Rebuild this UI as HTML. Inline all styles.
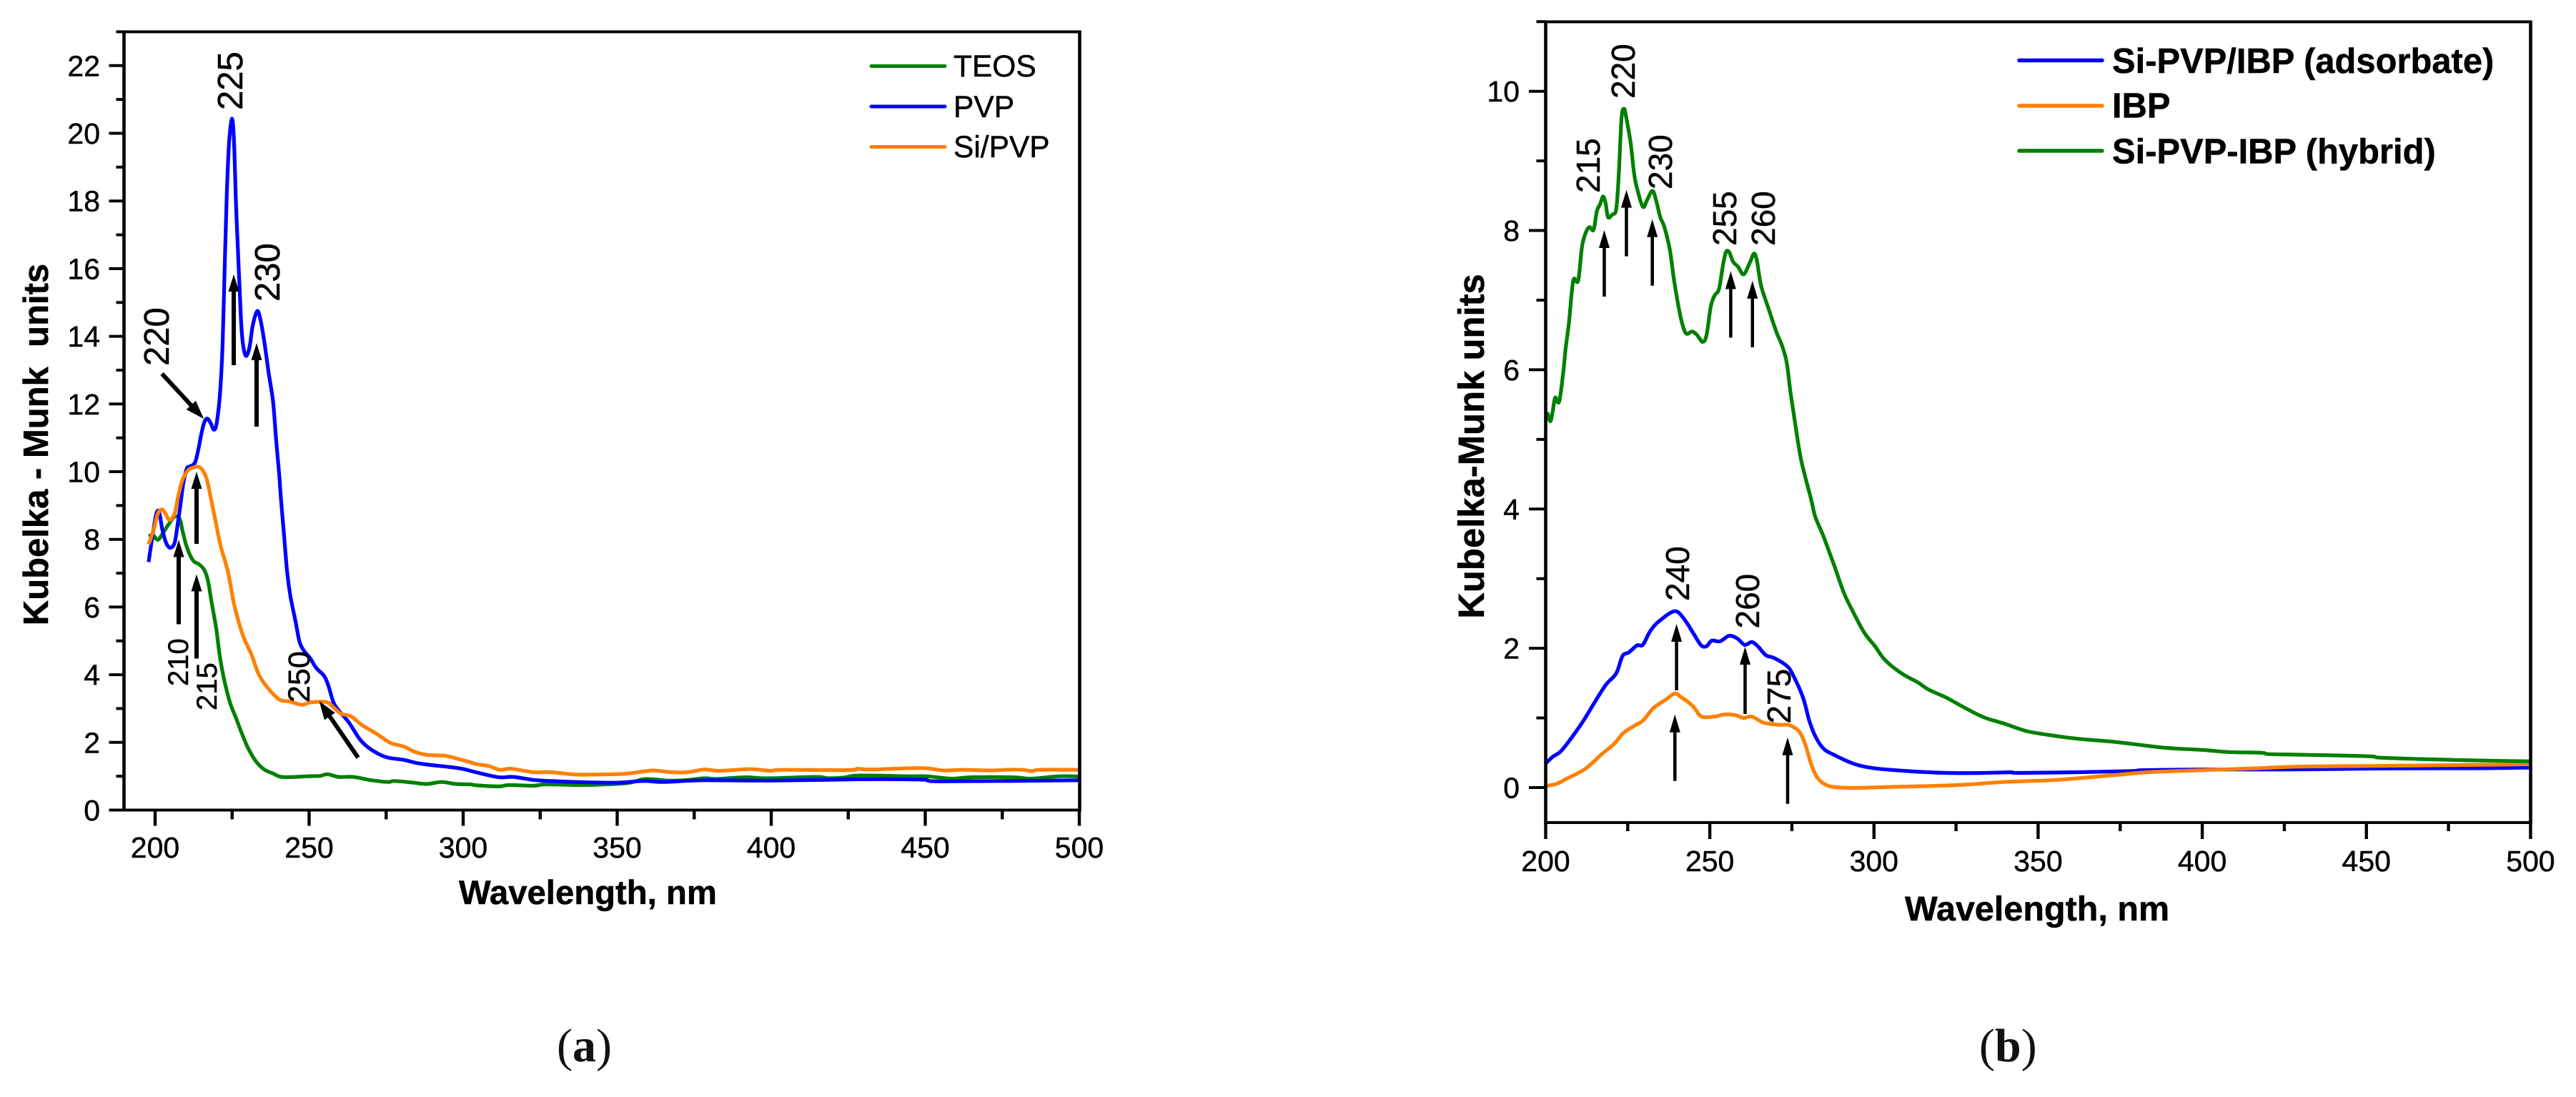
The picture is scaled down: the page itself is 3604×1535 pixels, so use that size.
<!DOCTYPE html>
<html lang="en">
<head>
<meta charset="utf-8">
<title>Kubelka-Munk spectra</title>
<style>
html,body{margin:0;padding:0;background:#fff;}
svg{display:block;}
text{font-family:"Liberation Sans",Arial,sans-serif;fill:#000;stroke:#000;stroke-width:.5px;}
.peak{font-size:49px;}
.peak-small{font-size:40px;}
.peak-b{font-size:46px;}
.legend-a{font-size:42.5px;}
.legend-b{font-size:48.9px;font-weight:bold;}
.axis-title{font-weight:bold;}
.caption{font-family:"Liberation Serif",serif;font-size:66px;fill:#111;stroke:none;}
.arrow-a line{stroke:#000;stroke-width:6;}
.arrow-b line{stroke:#000;stroke-width:4.5;}
</style>
</head>
<body>
<svg id="figure" xmlns="http://www.w3.org/2000/svg" width="3604" height="1535" viewBox="0 0 3604 1535">
  <rect x="0" y="0" width="3604" height="1535" fill="#fff"/>

  <g id="panel-a"></g>
  <g id="panel-b"></g>

  <!-- Panel (a) annotations -->
  <g>
    <text class="peak" transform="translate(339,154) rotate(-90)">225</text>
    <text class="peak" transform="translate(391,422) rotate(-90)">230</text>
    <text class="peak" transform="translate(236,512) rotate(-90)">220</text>
    <text class="peak-small" transform="translate(263,960) rotate(-90)">210</text>
    <text class="peak-small" transform="translate(303,994) rotate(-90)">215</text>
    <text class="peak-small" style="font-size:43px" transform="translate(433,983) rotate(-90)">250</text>

    <g class="arrow-a" transform="translate(327,384)"><line x1="0" y1="15" x2="0" y2="127"/><path d="M0 0L-7.5 24L7.5 24Z"/></g>
    <g class="arrow-a" transform="translate(359,480)"><line x1="0" y1="15" x2="0" y2="117"/><path d="M0 0L-7.5 24L7.5 24Z"/></g>
    <g class="arrow-a" transform="translate(285,586) rotate(137.2)"><line x1="0" y1="15" x2="0" y2="86"/><path d="M0 0L-9 26L9 26Z"/></g>
    <g class="arrow-a" transform="translate(250,755.5)"><line x1="0" y1="15" x2="0" y2="118"/><path d="M0 0L-7.5 24L7.5 24Z"/></g>
    <g class="arrow-a" transform="translate(275,660)"><line x1="0" y1="15" x2="0" y2="101"/><path d="M0 0L-7.5 24L7.5 24Z"/></g>
    <g class="arrow-a" transform="translate(275,803.5)"><line x1="0" y1="15" x2="0" y2="118"/><path d="M0 0L-7.5 24L7.5 24Z"/></g>
    <g class="arrow-a" transform="translate(446.6,981) rotate(-34.5)"><line x1="0" y1="15" x2="0" y2="96"/><path d="M0 0L-9 26L9 26Z"/></g>
  </g>

  <!-- Panel (a) legend -->
  <g>
    <line x1="1219" y1="92.5" x2="1322" y2="92.5" stroke="#008000" stroke-width="5" stroke-linecap="round"/>
    <text class="legend-a" x="1334" y="107">TEOS</text>
    <line x1="1219" y1="149" x2="1322" y2="149" stroke="#0000ff" stroke-width="5" stroke-linecap="round"/>
    <text class="legend-a" x="1334" y="164">PVP</text>
    <line x1="1219" y1="205.5" x2="1322" y2="205.5" stroke="#ff8000" stroke-width="5" stroke-linecap="round"/>
    <text class="legend-a" x="1334" y="220">Si/PVP</text>
  </g>

  <!-- Panel (b) annotations -->
  <g>
    <text class="peak-b" transform="translate(2287,138) rotate(-90)">220</text>
    <text class="peak-b" transform="translate(2238,270) rotate(-90)">215</text>
    <text class="peak-b" transform="translate(2339,265) rotate(-90)">230</text>
    <text class="peak-b" transform="translate(2429,344) rotate(-90)">255</text>
    <text class="peak-b" transform="translate(2483,344) rotate(-90)">260</text>
    <text class="peak-b" transform="translate(2363,841) rotate(-90)">240</text>
    <text class="peak-b" transform="translate(2461,879.5) rotate(-90)">260</text>
    <text class="peak-b" transform="translate(2505,1012.6) rotate(-90)">275</text>

    <g class="arrow-b" transform="translate(2244.5,322)"><line x1="0" y1="15" x2="0" y2="93"/><path d="M0 0L-7.5 25L7.5 25Z"/></g>
    <g class="arrow-b" transform="translate(2275.5,265.6)"><line x1="0" y1="15" x2="0" y2="93"/><path d="M0 0L-7.5 25L7.5 25Z"/></g>
    <g class="arrow-b" transform="translate(2311.7,306.7)"><line x1="0" y1="15" x2="0" y2="93"/><path d="M0 0L-7.5 25L7.5 25Z"/></g>
    <g class="arrow-b" transform="translate(2421.4,379.5)"><line x1="0" y1="15" x2="0" y2="93"/><path d="M0 0L-7.5 25L7.5 25Z"/></g>
    <g class="arrow-b" transform="translate(2451.8,392.9)"><line x1="0" y1="15" x2="0" y2="93"/><path d="M0 0L-7.5 25L7.5 25Z"/></g>
    <g class="arrow-b" transform="translate(2345.6,873)"><line x1="0" y1="15" x2="0" y2="93"/><path d="M0 0L-7.5 25L7.5 25Z"/></g>
    <g class="arrow-b" transform="translate(2441.5,905)"><line x1="0" y1="15" x2="0" y2="94"/><path d="M0 0L-7.5 25L7.5 25Z"/></g>
    <g class="arrow-b" transform="translate(2343.3,999.8)"><line x1="0" y1="15" x2="0" y2="93"/><path d="M0 0L-7.5 25L7.5 25Z"/></g>
    <g class="arrow-b" transform="translate(2501,1031.7)"><line x1="0" y1="15" x2="0" y2="93"/><path d="M0 0L-7.5 25L7.5 25Z"/></g>
  </g>

  <!-- Panel (b) legend -->
  <g>
    <line x1="2825" y1="84.5" x2="2941" y2="84.5" stroke="#0000ff" stroke-width="5.5" stroke-linecap="round"/>
    <text class="legend-b" x="2955" y="102">Si-PVP/IBP (adsorbate)</text>
    <line x1="2825" y1="148" x2="2941" y2="148" stroke="#ff8000" stroke-width="5.5" stroke-linecap="round"/>
    <text class="legend-b" x="2955" y="164.5">IBP</text>
    <line x1="2825" y1="211" x2="2941" y2="211" stroke="#008000" stroke-width="5.5" stroke-linecap="round"/>
    <text class="legend-b" x="2955" y="228.5">Si-PVP-IBP (hybrid)</text>
  </g>

  <!-- Axis titles -->
  <text class="axis-title" x="642" y="1265" font-size="47.3">Wavelength, nm</text>
  <text class="axis-title" transform="translate(67,622) rotate(-90)" text-anchor="middle" font-size="49" xml:space="preserve">Kubelka - Munk&#160;&#160;units</text>
  <text class="axis-title" x="2665" y="1288" font-size="48.5">Wavelength, nm</text>
  <text class="axis-title" transform="translate(2076,624.5) rotate(-90)" text-anchor="middle" font-size="50.8">Kubelka-Munk units</text>

  <!-- Panel captions -->
  <text class="caption" x="779" y="1485">(<tspan font-weight="bold">a</tspan>)</text>
  <text class="caption" x="2769" y="1485">(<tspan font-weight="bold">b</tspan>)</text>
</svg>

<script>
// ---------- Panel (a) data ----------
const xMajorA = [200, 250, 300, 350, 400, 450, 500];
const xMinorA = [225, 275, 325, 375, 425, 475];
const yMajorA = [0, 2, 4, 6, 8, 10, 12, 14, 16, 18, 20, 22];
const yMinorA = [1, 3, 5, 7, 9, 11, 13, 15, 17, 19, 21, 23];

const waveTeos = [197.9,199.2,200.9,202.7,204.3,206.3,208,208.9,210.3,212.3,214.3,216,217.2,218.3,219.9,220.9,222.3,224.3,226.3,228.3,230.3,232.9,235.6,238.3,240.9,245.6,249.6,253.6,255.9,259.6,264.3,270.3,275.6,277.6,282.9,288.2,292.9,297.6,302.3,304.3,311.6,314.9,322.9,326.9,338.9,346.9,353.6,358.4,361.7,366.5,371.7,378.4,382.4,391.7,398.4,414.4,418.4,423.7,428.4,445,450.4,458.4,465,478.4,484.4,493.7,500];
const valuesTeos = [8.09,8.13,7.99,8.21,8.43,8.67,8.6,8.25,7.77,7.38,7.26,7.09,6.76,6.16,5.33,4.61,3.9,3.18,2.71,2.23,1.81,1.42,1.19,1.08,.98,.98,1,1.01,1.06,.98,.98,.88,.83,.86,.82,.77,.83,.77,.76,.73,.7,.74,.72,.76,.74,.76,.8,.91,.91,.87,.88,.94,.92,.97,.94,.98,.94,.96,1.02,1,1,.93,.97,.97,.93,1,.99];

const wavePvp = [197.9,198.9,200.3,201.3,202.3,203.6,204.9,206.3,207.3,208.3,209.2,210.3,211.2,212.9,214,214.9,215.9,216.9,218,219.1,220,221.1,221.9,222.7,223.3,224,224.9,225.6,226.3,227.2,228,228.7,229.6,230.7,231.7,233.2,234.4,235.6,236.9,238.3,239.3,240.3,240.9,241.9,242.9,244,245.6,246.9,248.3,250.3,252.3,254.9,256.3,257.9,259.6,262.9,266.3,268.9,272.3,275.6,280.9,284.9,289.6,294.9,299.6,304.9,311.6,316.3,322.9,330.9,340.3,350.3,358.7,365,378.3,400,429,449,455.6,500];
const valuesPvp = [7.33,7.95,8.72,8.81,8.31,7.89,7.75,7.89,8.43,9.08,9.68,10.1,10.15,10.26,10.64,11.07,11.44,11.57,11.44,11.24,11.44,12.34,13.75,16.4,18.28,19.7,20.43,19.8,17.8,15.9,14.3,13.66,13.42,13.7,14.32,14.75,14.4,13.75,12.9,12.06,10.92,9.9,9.14,8.07,7,6.28,5.57,4.97,4.71,4.49,4.2,3.96,3.66,3.18,2.94,2.59,2.11,1.87,1.67,1.55,1.48,1.39,1.33,1.28,1.22,1.1,.97,.98,.89,.85,.82,.81,.86,.83,.88,.87,.91,.9,.85,.88];

const waveSiPvp = [197.9,199.6,200.9,202.3,203.6,204.7,206.3,207.6,208.9,210.7,212.3,213.9,215.2,216.7,218,219.6,221.2,223.6,225.6,228.3,231.2,233.6,236.3,240.3,243.6,247.6,250.3,255.6,257.6,260.3,263.6,266.9,272.3,276.3,280.9,284.3,288.3,294.3,300.9,304.3,308.3,311.9,315.6,322.9,328.3,336.3,343,352.3,358.4,362,367.7,373,378.4,383,393,399.7,403.7,425,428,432.4,449,456,462,471.7,475.7,481.5,484.6,487,500];
const valuesSiPvp = [7.85,8.31,8.76,8.88,8.72,8.57,8.76,9.32,9.76,10.04,10.12,10.15,10.07,9.8,9.26,8.55,7.83,7.06,6.1,5.21,4.61,4.02,3.64,3.27,3.21,3.11,3.18,3.19,3.06,2.85,2.77,2.53,2.23,1.99,1.87,1.72,1.63,1.6,1.45,1.36,1.3,1.19,1.22,1.12,1.12,1.05,1.05,1.07,1.14,1.17,1.12,1.12,1.2,1.16,1.21,1.16,1.19,1.18,1.22,1.2,1.24,1.17,1.19,1.17,1.19,1.19,1.15,1.19,1.19];

// ---------- Panel (b) data ----------
const xMajorB = [200, 250, 300, 350, 400, 450, 500];
const xMinorB = [225, 275, 325, 375, 425, 475];
const yMajorB = [0, 2, 4, 6, 8, 10];
const yMinorB = [1, 3, 5, 7, 9, 11];

const waveAdsorbate = [200,202.1,204.6,207.8,211.5,214.6,218.4,221.5,223.4,225.3,227.8,229.6,231.5,233.4,235.9,238.4,240.3,242.8,245.3,247.4,249,250.6,253.1,255.9,258.4,260.6,262.8,264.6,267.1,269.6,273.4,275.3,278.4,280.3,282.1,284.6,287.8,293.4,299.6,310.9,322.1,333.4,341.5,344,361,378,382.4,400.3,428.3,456,484,500];
const valuesAdsorbate = [.345,.44,.52,.71,.96,1.2,1.48,1.64,1.89,1.94,2.04,2.05,2.22,2.34,2.44,2.52,2.52,2.38,2.19,2.04,2.03,2.11,2.1,2.18,2.14,2.05,2.09,2.03,1.9,1.86,1.75,1.62,1.29,.96,.74,.56,.47,.35,.28,.235,.21,.21,.22,.21,.22,.236,.25,.26,.26,.274,.277,.287];

const waveIbp = [200,203.4,206.5,212.1,217.1,220.9,223.6,227.1,229.6,232.8,236.5,239.3,240.9,244.6,246.9,248.4,251.5,254.6,257.8,260.3,262.8,266.5,271.5,274,277.1,279,280.9,282.8,285.3,288.4,294.6,302.1,314.6,327.1,339.6,355.5,372.4,383.5,400.3,417,428.3,450.6,473,500];
const valuesIbp = [.02,.055,.13,.27,.48,.63,.78,.89,.96,1.14,1.26,1.35,1.31,1.18,1.04,1.01,1.02,1.05,1.04,1,1.02,.93,.9,.9,.81,.63,.33,.14,.04,.005,-.005,.005,.02,.04,.08,.11,.175,.22,.25,.277,.3,.31,.32,.335];

const waveHybrid = [200.5,201.4,202.1,202.9,204.1,205.3,206.1,207.1,208.4,209.9,211.1,212.4,213.4,214.6,215.6,216.6,217.5,218.3,219,220.3,221.5,222.3,223.1,223.9,224.6,225.9,226.9,227.8,229.6,230.9,232.5,233.6,234.9,236.1,237.8,239,240.3,241.5,242.8,244.6,246.1,247.8,249,250.3,251.5,252.8,254,254.9,255.9,257.1,258.6,260.3,262.1,263.5,264.4,265.6,267.8,270.3,271.9,273.4,274.6,275.9,277.8,280.9,282.1,284.6,287.8,290.9,294,297.1,300.3,303.4,308.4,313.4,316.5,322.1,327.1,333.4,339.6,346.6,355.5,362.3,372.4,378,389,400.3,408,418,420.4,431.6,450.6,454,466.3,483,500];
const valuesHybrid = [5.39,5.26,5.39,5.6,5.54,5.94,6.31,6.68,7.28,7.28,7.78,7.99,8.05,8.01,8.28,8.38,8.49,8.38,8.19,8.23,8.31,8.83,9.61,9.75,9.61,9.25,8.83,8.61,8.34,8.44,8.57,8.44,8.19,8.06,7.73,7.32,6.95,6.68,6.52,6.55,6.5,6.4,6.5,6.91,7.07,7.16,7.5,7.69,7.69,7.55,7.48,7.37,7.53,7.67,7.55,7.21,6.89,6.54,6.36,6.11,5.67,5.26,4.71,4.13,3.89,3.61,3.2,2.79,2.49,2.22,2.03,1.83,1.64,1.51,1.41,1.29,1.16,1.01,.92,.81,.74,.7,.66,.63,.57,.54,.51,.5,.48,.47,.45,.43,.41,.39,.376];

// ---------- Axis functions ----------
const xScaleA = w => 217 + 4.31 * (w - 200);
const yScaleA = v => 1133.5 - 47.35 * v;
const xScaleB = w => 2162.5 + 4.593 * (w - 200);
const yScaleB = v => 1102 - 97.43 * v;

const SVGNS = 'http://www.w3.org/2000/svg';

function addLine(parent, name, x1, y1, x2, y2, width) {
  const el = document.createElementNS(SVGNS, 'line');
  
  
  el.setAttribute('x1', x1);
  el.setAttribute('y1', y1);
  el.setAttribute('x2', x2);
  el.setAttribute('y2', y2);
  el.setAttribute('stroke', '#000');
  el.setAttribute('stroke-width', width);
  parent.appendChild(el);
}

function addLabel(parent, name, x, y, anchor, size, content) {
  const el = document.createElementNS(SVGNS, 'text');
  
  
  el.setAttribute('x', x);
  el.setAttribute('y', y);
  el.setAttribute('text-anchor', anchor);
  el.setAttribute('font-size', size);
  el.textContent = content;
  parent.appendChild(el);
}

// Smooth curve through the data points (Catmull-Rom to Bezier).
function curvePath(waves, values, sx, sy) {
  const px = waves.map(sx);
  const py = values.map(sy);
  const n = px.length;
  let d = 'M' + px[0].toFixed(1) + ' ' + py[0].toFixed(1);
  for (let i = 0; i < n - 1; i++) {
    const a = Math.max(i - 1, 0);
    const b = Math.min(i + 2, n - 1);
    const c1x = px[i] + (px[i + 1] - px[a]) / 6;
    const c1y = py[i] + (py[i + 1] - py[a]) / 6;
    const c2x = px[i + 1] - (px[b] - px[i]) / 6;
    const c2y = py[i + 1] - (py[b] - py[i]) / 6;
    d += 'C' + c1x.toFixed(1) + ' ' + c1y.toFixed(1) + ' ' + c2x.toFixed(1) + ' ' + c2y.toFixed(1) + ' ' + px[i + 1].toFixed(1) + ' ' + py[i + 1].toFixed(1);
  }
  return d;
}

function addSeries(parent, name, color, waves, values, sx, sy) {
  const el = document.createElementNS(SVGNS, 'path');
  
  
  el.setAttribute('d', curvePath(waves, values, sx, sy));
  el.setAttribute('fill', 'none');
  el.setAttribute('stroke', color);
  el.setAttribute('stroke-width', '5.2');
  el.setAttribute('stroke-linejoin', 'round');
  el.setAttribute('stroke-linecap', 'butt');
  parent.appendChild(el);
}

function drawAxes(parent, o) {
  const L = o.left, R = o.right, T = o.top, B = o.bottom;
  addLine(parent, 'plot-frame-left', L, T - 2, L, B + 2, 4.6);
  addLine(parent, 'plot-frame-right', R, T - 2, R, B + 2, 4.6);
  addLine(parent, 'plot-frame-top', L, T, R + 2, T, 4);
  addLine(parent, 'plot-frame-bottom', L, B, R + 2, B, 4);
  o.xMajor.forEach(w => {
    addLine(parent, 'x-tick-major', o.sx(w), B, o.sx(w), B + o.xMajorLen, 4.4);
    addLabel(parent, 'x-tick-label', o.sx(w), o.xLabelY, 'middle', 41, String(w));
  });
  o.xMinor.forEach(w => {
    addLine(parent, 'x-tick-minor', o.sx(w), B, o.sx(w), B + o.xMinorLen, 4.4);
  });
  o.yMajor.forEach(v => {
    addLine(parent, 'y-tick-major', L - o.yMajorLen, o.sy(v), L, o.sy(v), 4);
    addLabel(parent, 'y-tick-label', o.yLabelX, o.sy(v) + 14.5, 'end', 41, String(v));
  });
  o.yMinor.forEach(v => {
    addLine(parent, 'y-tick-minor', L - o.yMinorLen, o.sy(v), L, o.sy(v), 4);
  });
}

// ---------- Panel (a) ----------
const panelA = document.getElementById('panel-a');
addSeries(panelA, 'series-teos', '#008000', waveTeos, valuesTeos, xScaleA, yScaleA);
addSeries(panelA, 'series-pvp', '#0000ff', wavePvp, valuesPvp, xScaleA, yScaleA);
addSeries(panelA, 'series-si-pvp', '#ff8000', waveSiPvp, valuesSiPvp, xScaleA, yScaleA);
drawAxes(panelA, {
  left: 173.5, right: 1510.5, top: 44.5, bottom: 1133.5,
  sx: xScaleA, sy: yScaleA,
  xMajor: xMajorA, xMinor: xMinorA, yMajor: yMajorA, yMinor: yMinorA,
  xMajorLen: 22, xMinorLen: 13, yMajorLen: 21, yMinorLen: 11,
  xLabelY: 1200, yLabelX: 140
});

// ---------- Panel (b) ----------
const panelB = document.getElementById('panel-b');
addSeries(panelB, 'series-adsorbate', '#0000ff', waveAdsorbate, valuesAdsorbate, xScaleB, yScaleB);
addSeries(panelB, 'series-ibp', '#ff8000', waveIbp, valuesIbp, xScaleB, yScaleB);
addSeries(panelB, 'series-hybrid', '#008000', waveHybrid, valuesHybrid, xScaleB, yScaleB);
drawAxes(panelB, {
  left: 2162.5, right: 3540.5, top: 30.5, bottom: 1151,
  sx: xScaleB, sy: yScaleB,
  xMajor: xMajorB, xMinor: xMinorB, yMajor: yMajorB, yMinor: yMinorB,
  xMajorLen: 23, xMinorLen: 12, yMajorLen: 23.5, yMinorLen: 13,
  xLabelY: 1219, yLabelX: 2126
});
</script>
</body>
</html>
